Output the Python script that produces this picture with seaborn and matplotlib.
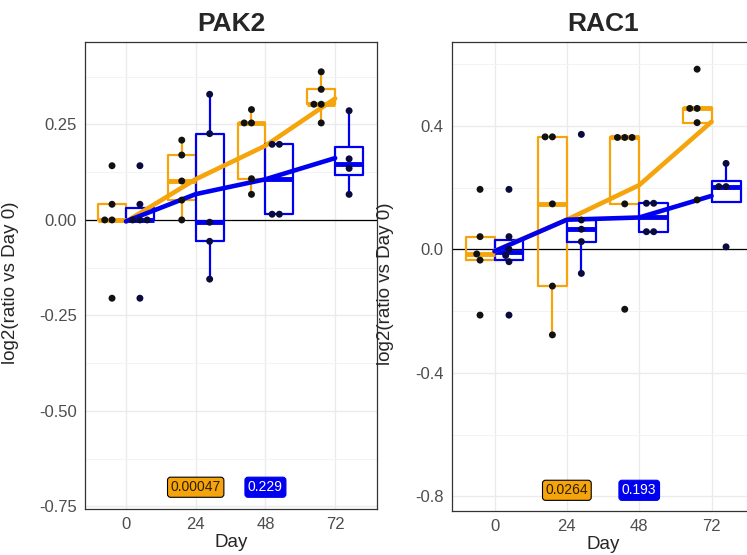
import matplotlib.pyplot as plt
import numpy as np
import pandas as pd
import seaborn as sns
from matplotlib.ticker import FixedLocator, FormatStrFormatter

# values (log2 ratio vs day 0)
days = [0, 24, 48, 72]
conds = ["cond_a", "cond_b"]

pak2_a = [
    [0.142, 0.041, 0.0, 0.0, -0.205],
    [0.209, 0.170, 0.102, 0.052, 0.0],
    [0.289, 0.254, 0.254, 0.108, 0.067],
    [0.388, 0.342, 0.303, 0.303, 0.254],
]
pak2_b = [
    [0.142, 0.041, 0.0, 0.0, 0.0, -0.205],
    [0.329, 0.226, -0.006, -0.056, -0.155],
    [0.198, 0.198, 0.015, 0.015],
    [0.286, 0.160, 0.135, 0.067],
]
rac1_a = [
    [0.194, 0.041, -0.015, -0.035, -0.213],
    [0.364, 0.364, 0.147, -0.119, -0.277],
    [0.362, 0.362, 0.362, 0.147, -0.194],
    [0.583, 0.456, 0.456, 0.410, 0.160],
]
rac1_b = [
    [0.194, 0.041, 0.0, -0.020, -0.040, -0.213],
    [0.372, 0.095, 0.065, 0.025, -0.078],
    [0.149, 0.149, 0.057, 0.057],
    [0.278, 0.203, 0.203, 0.008],
]

label_days = [24, 48]
pak2_pvals = ["0.00047", "0.229"]
rac1_pvals = ["0.0264", "0.193"]
pak2_label_y = -0.70
rac1_label_y = -0.78

box_colors = {"cond_a": "#F5A40C", "cond_b": "#0000F0"}
dot_colors = {"cond_a": "#111111", "cond_b": "#0a0a3c"}


def make_frame(series_a, series_b):
    rows = []
    for cond, series in zip(conds, [series_a, series_b]):
        for day, vals in zip(days, series):
            for v in vals:
                rows.append({"day": day, "value": v, "cond": cond})
    return pd.DataFrame(rows)


def draw_panel(ax, data, title, pvals, label_y, yticks, yminor, fmt, ylim):
    ax.axhline(0, color="black", lw=0.9, zorder=1)

    sns.boxplot(
        data=data, x="day", y="value", hue="cond", hue_order=conds,
        palette=box_colors, native_scale=True, fill=False, width=0.8,
        linewidth=1.6, showfliers=False, showcaps=False,
        medianprops={"lw": 3.5}, legend=False, ax=ax,
    )
    sns.lineplot(
        data=data, x="day", y="value", hue="cond", hue_order=conds,
        palette=box_colors, estimator="mean", errorbar=None, lw=3.3,
        legend=False, ax=ax, zorder=4,
    )
    sns.swarmplot(
        data=data, x="day", y="value", hue="cond", hue_order=conds,
        palette=dot_colors, native_scale=True, dodge=True, size=5,
        legend=False, ax=ax, zorder=5,
    )

    # p-value labels
    ax.text(label_days[0], label_y, pvals[0], ha="center", va="center",
            fontsize=10, color="#2e1e00", zorder=6,
            bbox=dict(boxstyle="round,pad=0.22", fc="#F5A40C", ec="black", lw=0.8))
    ax.text(label_days[1], label_y, pvals[1], ha="center", va="center",
            fontsize=10, color="white", zorder=6,
            bbox=dict(boxstyle="round,pad=0.22", fc="#0000F0", ec="#0000F0", lw=0.8))

    ax.set_xlim(-14.1, 86.4)
    ax.set_ylim(*ylim)
    ax.set_xticks(days)
    ax.set_yticks(yticks)
    ax.yaxis.set_major_formatter(FormatStrFormatter(fmt))
    ax.yaxis.set_minor_locator(FixedLocator(yminor))
    ax.grid(which="major", color="#EBEBEB", lw=1.0)
    ax.grid(which="minor", axis="y", color="#F3F3F3", lw=0.7)
    ax.set_axisbelow(True)

    for s in ax.spines.values():
        s.set_color("#333333")
        s.set_linewidth(0.9)
    ax.tick_params(which="major", length=3.5, width=0.8, color="#333333",
                   labelcolor="#4D4D4D", labelsize=12, pad=2.5)
    ax.tick_params(which="minor", length=0)

    ax.set_title(title, fontsize=19, fontweight="bold", pad=8)
    ax.set_xlabel("Day", fontsize=13.5, labelpad=1)
    ax.set_ylabel("log2(ratio vs Day 0)", fontsize=13.5)


sns.set_style("white")
plt.rcParams["font.family"] = ["Liberation Sans", "DejaVu Sans"]
plt.rcParams["axes.unicode_minus"] = False

fig = plt.figure(figsize=(7.47, 5.55), dpi=100)
ax1 = fig.add_axes([85 / 747, 46 / 555, 292 / 747, 467 / 555])
ax2 = fig.add_axes([452 / 747, 44 / 555, 303 / 747, 469 / 555])

draw_panel(ax1, make_frame(pak2_a, pak2_b), "PAK2", pak2_pvals, pak2_label_y,
           [-0.75, -0.5, -0.25, 0.0, 0.25], [-0.625, -0.375, -0.125, 0.125, 0.375],
           "%.2f", (-0.757, 0.466))
draw_panel(ax2, make_frame(rac1_a, rac1_b), "RAC1", rac1_pvals, rac1_label_y,
           [-0.8, -0.4, 0.0, 0.4], [-0.6, -0.2, 0.2, 0.6],
           "%.1f", (-0.847, 0.671))

ax1.yaxis.set_label_coords(-0.225, 0.485)
ax2.yaxis.set_label_coords(-0.193, 0.485)

fig.savefig("out.png", dpi=100)
